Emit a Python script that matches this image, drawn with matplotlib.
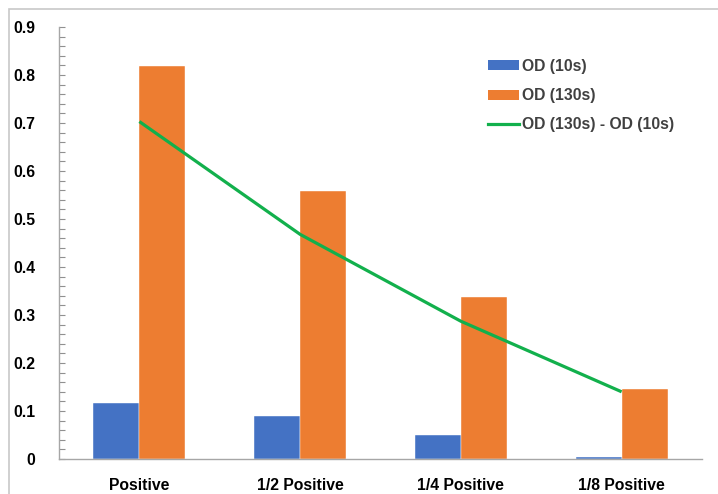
import matplotlib
matplotlib.use("Agg")
import matplotlib.pyplot as plt
import numpy as np
from matplotlib.patches import Rectangle
from matplotlib.ticker import MultipleLocator
from matplotlib.lines import Line2D
from matplotlib.patches import Patch

categories = ["Positive", "1/2 Positive", "1/4 Positive", "1/8 Positive"]
od_10s = [0.116, 0.090, 0.051, 0.005]
od_130s = [0.819, 0.558, 0.338, 0.145]
od_diff = [a - b for a, b in zip(od_130s, od_10s)]
y_ticks = [0, 0.1, 0.2, 0.3, 0.4, 0.5, 0.6, 0.7, 0.8, 0.9]
y_tick_labels = ["0", "0.1", "0.2", "0.3", "0.4", "0.5", "0.6", "0.7", "0.8", "0.9"]

BLUE = "#4472C4"
ORANGE = "#ED7D31"
GREEN = "#12B04C"
AXIS_GRAY = "#A6A6A6"

plt.rcParams["font.family"] = ["Liberation Sans", "DejaVu Sans"]

fig = plt.figure(figsize=(7.18, 4.94), dpi=100)
fig.patch.set_facecolor("white")

# light frame around the chart area
fig.patches.append(Rectangle((9 / 718, -0.1), 1.2, 1 - 9 / 494 + 0.1,
                             transform=fig.transFigure, fill=False,
                             edgecolor="#C8C8C8", linewidth=1.2))

ax = fig.add_axes([59 / 718, 1 - 459 / 494, (702 - 59) / 718, (459 - 27) / 494])

x = np.arange(len(categories))
w = 0.286
ax.bar(x - w / 2, od_10s, width=w, color=BLUE, edgecolor="white", linewidth=0.3, zorder=2)
ax.bar(x + w / 2, od_130s, width=w, color=ORANGE, edgecolor="white", linewidth=0.3, zorder=2)
ax.plot(x, od_diff, color=GREEN, linewidth=2.3, zorder=3, solid_capstyle="butt")

ax.set_xlim(-0.5, len(categories) - 0.5)
ax.set_ylim(0, 0.9)
ax.set_yticks(y_ticks)
ax.set_yticklabels(y_tick_labels)
ax.yaxis.set_minor_locator(MultipleLocator(0.02))
ax.set_xticks(x)
ax.set_xticklabels(categories)

for s in ["top", "right"]:
    ax.spines[s].set_visible(False)
for s in ["left", "bottom"]:
    ax.spines[s].set_color(AXIS_GRAY)
    ax.spines[s].set_linewidth(1.0)

ax.tick_params(axis="y", which="major", direction="in", length=4, width=0.8,
               color="#909090", pad=17, labelsize=11.3)
ax.tick_params(axis="y", which="minor", direction="in", length=4, width=0.8,
               color="#909090")
ax.tick_params(axis="x", which="both", length=0, pad=14, labelsize=11.3)
for lbl in ax.get_yticklabels() + ax.get_xticklabels():
    lbl.set_fontweight("bold")
    lbl.set_color("black")

handles = [
    Patch(facecolor=BLUE, edgecolor="none"),
    Patch(facecolor=ORANGE, edgecolor="none"),
    Line2D([0], [0], color=GREEN, linewidth=2.3),
]
labels = ["OD (10s)", "OD (130s)", "OD (130s) - OD (10s)"]
leg = fig.legend(handles, labels, loc="upper left",
                 bbox_to_anchor=(488 / 718, 1 - 59 / 494),
                 frameon=False, borderpad=0, borderaxespad=0,
                 handlelength=2.0, handleheight=0.6, handletextpad=0.15,
                 labelspacing=0.9,
                 prop={"family": ["Liberation Sans", "DejaVu Sans"],
                       "weight": "bold", "size": 11.3})
for t in leg.get_texts():
    t.set_color("#404040")

fig.savefig("out.png", dpi=100, facecolor="white")
